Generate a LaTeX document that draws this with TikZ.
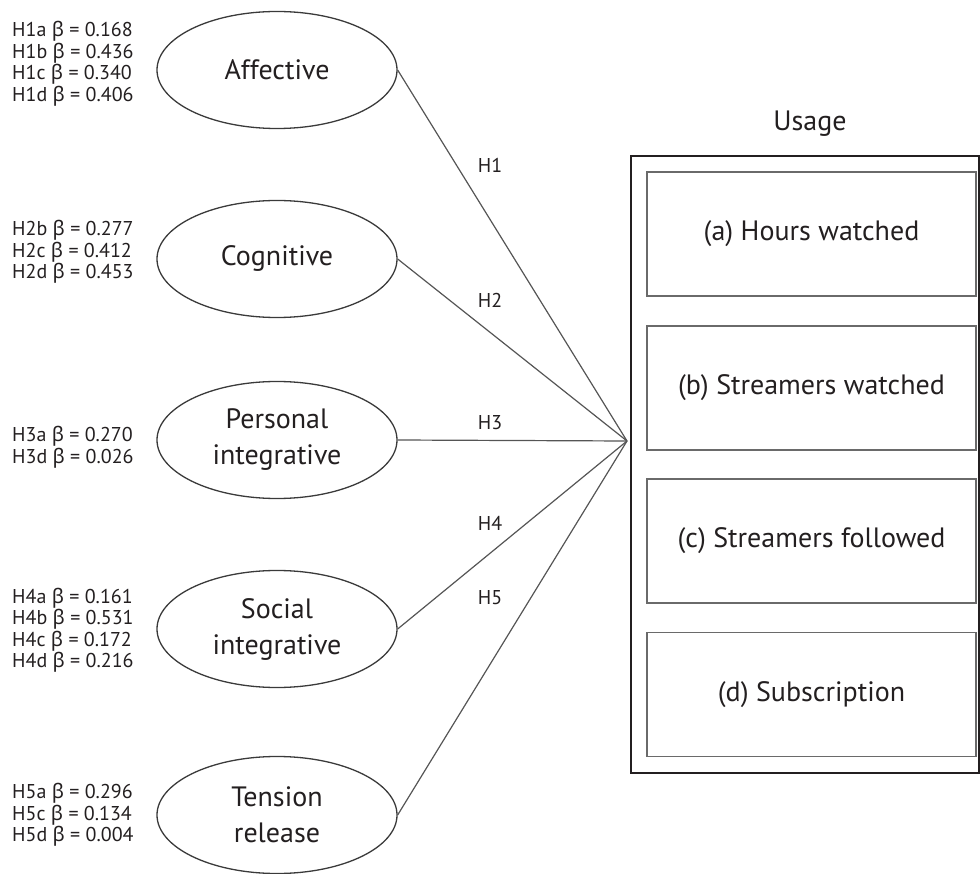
\documentclass[tikz,border=0pt]{standalone}
\usepackage{fontspec}
\setmainfont{PT Sans}
\newfontfamily\grkfont{Noto Sans}
\usetikzlibrary{shapes.geometric}
\newcommand{\bt}{{\grkfont β}}
\definecolor{ink}{HTML}{231F20}
\definecolor{edge}{HTML}{3A3A3A}
\definecolor{conncol}{HTML}{555555}
\definecolor{boxcol}{HTML}{6A6A6A}
\begin{document}
\begin{tikzpicture}[x=1pt,y=-1pt,
  construct/.style={ellipse, draw=edge, line width=1.3pt, minimum width=240pt,
    minimum height=117pt, inner sep=0pt, align=center, text=ink,
    font=\fontsize{28}{36}\selectfont},
  betas/.style={anchor=west, align=left, inner sep=0pt, text=ink,
    font=\fontsize{20}{21.5}\selectfont},
  hyp/.style={inner sep=0pt, text=ink, font=\fontsize{20}{24}\selectfont},
  conn/.style={draw=conncol, line width=1.2pt},
  measure/.style={rectangle, draw=boxcol, line width=1.3pt, minimum width=329pt,
    minimum height=124pt, inner sep=0pt, text=ink, font=\fontsize{28}{34}\selectfont},
]
\useasboundingbox (0,0) rectangle (980,874);

% latent constructs
\node[construct] (aff) at (277,70)  {Affective};
\node[construct] (cog) at (277,259) {Cognitive};
\node[construct] (per) at (277,440) {Personal\\integrative};
\node[construct] (soc) at (277,629) {Social\\integrative};
\node[construct] (ten) at (277,815) {Tension\\release};

% path coefficients
\node[betas] (baff) at (12,64)  {H1a \bt{} = 0.168\\H1b \bt{} = 0.436\\H1c \bt{} = 0.340\\H1d \bt{} = 0.406};
\node[betas] (bcog) at (12,252) {H2b \bt{} = 0.277\\H2c \bt{} = 0.412\\H2d \bt{} = 0.453};
\node[betas] (bper) at (12,447) {H3a \bt{} = 0.270\\H3d \bt{} = 0.026};
\node[betas] (bsoc) at (12,630) {H4a \bt{} = 0.161\\H4b \bt{} = 0.531\\H4c \bt{} = 0.172\\H4d \bt{} = 0.216};
\node[betas] (bten) at (12,815) {H5a \bt{} = 0.296\\H5c \bt{} = 0.134\\H5d \bt{} = 0.004};

% usage block
\node[text=ink, font=\fontsize{28}{34}\selectfont, inner sep=0pt] (usage) at (810,124) {Usage};
\node[draw=ink, line width=2.6pt, minimum width=348pt, minimum height=617pt,
  inner sep=0pt] (frame) at (805,464.5) {};
\node[measure] (ma) at (811.5,234)   {(a) Hours watched};
\node[measure] (mb) at (811.5,388)   {(b) Streamers watched};
\node[measure] (mc) at (811.5,541)   {(c) Streamers followed};
\node[measure] (md) at (811.5,694.5) {(d) Subscription};

% hypotheses converging on the usage block
\coordinate (hub) at (627,441);
\draw[conn] (aff.east) -- (hub);
\draw[conn] (cog.east) -- (hub);
\draw[conn] (per.east) -- (hub);
\draw[conn] (soc.east) -- (hub);
\draw[conn] (ten.east) -- (hub);

\node[hyp] (h1) at (490,165) {H1};
\node[hyp] (h2) at (490,300) {H2};
\node[hyp] (h3) at (490,423) {H3};
\node[hyp] (h4) at (490,523) {H4};
\node[hyp] (h5) at (490,598) {H5};
\end{tikzpicture}
\end{document}
